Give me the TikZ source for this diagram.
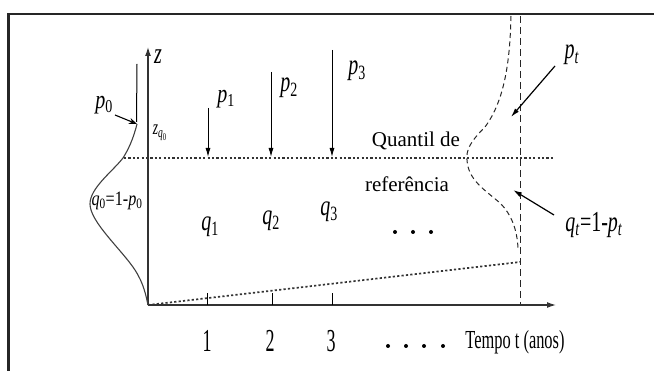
\documentclass[tikz,border=0pt]{standalone}
\usepackage{fontspec}
\setmainfont{Liberation Serif}
\usetikzlibrary{arrows.meta}
\newcommand\lbl[2]{\textit{#1}\textsubscript{#2}}
\begin{document}
\begin{tikzpicture}[x=1pt,y=-1pt,
  axis/.style={line width=1.3pt,draw=black!80,-{Latex[length=9pt,width=6pt]}},
  dotln/.style={line width=1.5pt,dash pattern=on 2.2pt off 2.2pt,draw=black!80},
  dashln/.style={line width=1pt,dash pattern=on 7pt off 4pt,draw=black!85},
  parrow/.style={line width=1pt,-{Latex[length=9pt,width=5pt]}},
  txt/.style={inner sep=0pt,font=\fontsize{20}{22}\selectfont},
  dotn/.style={circle,fill=black,inner sep=0pt,minimum size=4pt}]
\useasboundingbox (0,0) rectangle (654,371);
% frame
\draw[line width=2.2pt,draw=black!85] (8.5,371) -- (8.5,14) -- (654,14);
% coordinates
\coordinate (O) at (148,305);
\coordinate (Ztop) at (148,47);
\coordinate (Tend) at (556,305);
% dashed vertical
\coordinate (Vt) at (520,16);
\coordinate (Vb) at (520,305);
\draw[dashln] (Vt) -- (Vb);
% axes
\draw[axis] (O) -- (Ztop);
\draw[axis] (O) -- (Tend);
% ticks
\foreach \x/\n in {207/a,272/b,332/c}{
  \coordinate (tk\n) at (\x,305);
  \draw[line width=1pt] (tk\n) -- ++(0,-12);
}
% quantile line
\coordinate (Ql) at (124,158);
\coordinate (Qr) at (553,158);
\draw[dotln] (Ql) -- (Qr);
% lower dotted line
\coordinate (Lr) at (520,262);
\draw[dotln,line width=1.7pt] (O) -- (Lr);
% left solid curve
\coordinate (C0top) at (137,124);
\draw[line width=1.1pt,draw=black!75] (C0top) .. controls (133,140) and (128,150) .. (123,158)
  .. controls (112,172) and (90,188) .. (90,204)
  .. controls (90,222) and (122,250) .. (135,270)
  .. controls (144,284) and (146,296) .. (O);
% right dashed curve
\draw[dashln,dash pattern=on 5pt off 3.5pt] (511,16) .. controls (510,60) and (505,100) .. (485,127)
  .. controls (470,142) and (466,150) .. (467,160)
  .. controls (468,180) and (485,190) .. (500,203)
  .. controls (512,215) and (517,230) .. (518,248);
% arrows p1 p2 p3
\coordinate (a1s) at (208,108); \coordinate (a1e) at (208,157);
\coordinate (a2s) at (271,72);  \coordinate (a2e) at (271,157);
\coordinate (a3s) at (332,50);  \coordinate (a3e) at (332,157);
\draw[parrow] (a1s) -- (a1e);
\draw[parrow] (a2s) -- (a2e);
\draw[parrow] (a3s) -- (a3e);
% p0 arrows
\coordinate (p0v) at (137,64);
\draw[line width=1pt] (p0v) -- (136.5,122);
\coordinate (p0s) at (115,115);
\draw[line width=1.1pt,-{Stealth[open,length=8pt,width=6pt]}] (p0s) -- (C0top);
% pt and qt arrows
\coordinate (pts) at (555,66); \coordinate (pte) at (511,117);
\coordinate (qts) at (554,215); \coordinate (qte) at (513,190);
\draw[parrow,line width=1.2pt] (pts) -- (pte);
\draw[parrow,line width=1.2pt] (qts) -- (qte);
% labels
\node[txt] (z) at (158,57) {\scalebox{1}[1.5]{\textit{z}}};
\node[txt,font=\fontsize{15}{17}\selectfont] (zq) at (160,133) {\scalebox{0.9}[1.4]{\textit{z}\textsubscript{\textit{q}\textsubscript{0}}}};
\node[txt] (p0) at (104,105) {\scalebox{1}[1.3]{\lbl{p}{0}}};
\node[txt,font=\fontsize{17}{19}\selectfont] (q0) at (117,201) {\scalebox{0.95}[1.2]{\lbl{q}{0}=1-\lbl{p}{0}}};
\node[txt] (p1) at (226,99) {\scalebox{1}[1.3]{\lbl{p}{1}}};
\node[txt] (p2) at (289,88) {\scalebox{1}[1.45]{\lbl{p}{2}}};
\node[txt] (p3) at (357,71) {\scalebox{1}[1.45]{\lbl{p}{3}}};
\node[txt] (q1) at (210,227) {\scalebox{1}[1.45]{\lbl{q}{1}}};
\node[txt] (q2) at (271,221) {\scalebox{1}[1.45]{\lbl{q}{2}}};
\node[txt] (q3) at (329,212) {\scalebox{1}[1.45]{\lbl{q}{3}}};
\node[dotn] (d1) at (395,232) {};
\node[dotn] (d2) at (413,232) {};
\node[dotn] (d3) at (431,232) {};
\node[txt,font=\fontsize{21}{23}\selectfont] (quant) at (416,141) {Quantil de};
\node[txt,font=\fontsize{21}{23}\selectfont] (ref) at (407,184) {referência};
\node[txt] (pt) at (572,55) {\scalebox{1}[1.45]{\lbl{p}{\textit{t}}}};
\node[txt] (qt) at (594,225) {\scalebox{1}[1.45]{\lbl{q}{\textit{t}}=1-\lbl{p}{\textit{t}}}};
\node[txt] (n1) at (207,341) {\scalebox{0.9}[1.6]{1}};
\node[txt] (n2) at (270,341) {\scalebox{0.9}[1.6]{2}};
\node[txt] (n3) at (331,341) {\scalebox{0.9}[1.6]{3}};
\node[dotn] (e1) at (388,346) {};
\node[dotn] (e2) at (406,346) {};
\node[dotn] (e3) at (424,346) {};
\node[dotn] (e4) at (443,346) {};
\node[txt] (tempo) at (515,342) {\scalebox{0.82}[1.3]{Tempo t (anos)}};
\end{tikzpicture}
\end{document}
